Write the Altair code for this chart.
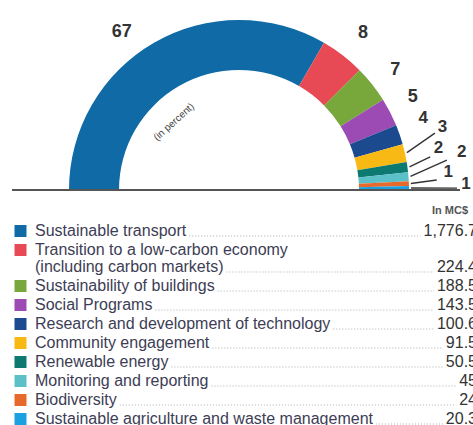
import math
import altair as alt
import pandas as pd

# ---------------- data ----------------
categories = [
    "Sustainable transport",
    "Transition to a low-carbon economy",
    "Sustainability of buildings",
    "Social Programs",
    "Research and development of technology",
    "Community engagement",
    "Renewable energy",
    "Monitoring and reporting",
    "Biodiversity",
    "Sustainable agriculture and waste management",
]
second_lines = ["", "(including carbon markets)", "", "", "", "", "", "", "", ""]
amounts = [1776.7, 224.4, 188.5, 143.5, 100.6, 91.5, 50.5, 45, 24, 20.3]
amount_labels = ["1,776.7", "224.4", "188.5", "143.5", "100.6", "91.5", "50.5", "45", "24", "20.3"]
percent_labels = ["67", "8", "7", "5", "4", "3", "2", "2", "1", "1"]
colors = ["#0f6aa6", "#e84a55", "#78a83b", "#9b4bb3", "#1b4a8f",
          "#f9b914", "#0c7a70", "#5cc0c8", "#e8692c", "#1ba1e0"]
unit_label = "In MC$"
inner_note = "(in percent)"

# ---------------- layout / style ----------------
W, H = 473, 425
CX, CY = 239, 190
R_OUT, R_IN = 170, 120
label_radius = [197, 200, 197, 197, 198, 213, 204, 226, 210, 227]
label_shift = [-6.5, 0.7, 0.9, -0.8, -2.4, -4.7, -4.2, -5.2, -2.7, -0.8]
label_size = [18, 18, 18, 18, 17, 17, 17, 17, 17, 17]
leader_end_r = [None, None, None, None, None, 204, 194, 210, 198, 218]
leader_end_a = [None, None, None, None, None, 73.8, 80.2, 81.8, 87.1, 89.5]

FONT = "Liberation Sans"
LEG_FS = 16
LEG_X = 35
VAL_RIGHT = 477

# Arial width table (per 1000 em)
AW = {" ": 278, "(": 333, ")": 333, "-": 333, ",": 278, ".": 278,
      "a": 556, "b": 556, "c": 500, "d": 556, "e": 556, "f": 278, "g": 556, "h": 556,
      "i": 222, "j": 222, "k": 500, "l": 222, "m": 833, "n": 556, "o": 556, "p": 556,
      "q": 556, "r": 333, "s": 500, "t": 278, "u": 556, "v": 500, "w": 722, "x": 500,
      "y": 500, "z": 500, "S": 667, "T": 611, "C": 722, "R": 722, "M": 833, "B": 667,
      "P": 667}


def tw(s, fs):
    return sum(AW.get(c, 556) for c in s) * fs / 1000.0


total = sum(amounts)
pcts = [a / total for a in amounts]

# ---------------- arc data ----------------
arc_df = pd.DataFrame({"cat": categories, "amount": amounts, "idx": list(range(len(amounts)))})

# ---------------- label positions (polar, from slice mid angles) ----------------
lab_rows, lead_rows = [], []
cum = 0.0
for i, p in enumerate(pcts):
    mid = -90 + (cum + p / 2) * 180
    cum += p
    a = math.radians(mid + label_shift[i])
    lab_rows.append({"x": CX + label_radius[i] * math.sin(a),
                     "y": CY - label_radius[i] * math.cos(a),
                     "t": percent_labels[i], "fs": label_size[i]})
    if leader_end_r[i] is not None:
        m = math.radians(mid)
        e = math.radians(leader_end_a[i])
        lead_rows.append({"x": CX + (R_OUT + 2) * math.sin(m), "y": CY - (R_OUT + 2) * math.cos(m),
                          "x2": CX + leader_end_r[i] * math.sin(e), "y2": CY - leader_end_r[i] * math.cos(e)})
lab_df = pd.DataFrame(lab_rows)
lead_df = pd.DataFrame(lead_rows)

# ---------------- legend rows ----------------
leg_sq, leg_txt, leg_val, leg_dot = [], [], [], []
extra = 0
for i, c in enumerate(categories):
    y = 231 + 19 * i + extra
    leg_sq.append({"x": 20.5, "y": y, "cat": c})
    leg_txt.append({"x": LEG_X, "y": y, "t": c})
    last_line, ly = c, y
    if second_lines[i]:
        extra += 17
        ly = y + 17
        last_line = second_lines[i]
        leg_txt.append({"x": LEG_X, "y": ly, "t": second_lines[i]})
    leg_val.append({"x": VAL_RIGHT, "y": ly, "t": amount_labels[i]})
    x_start = LEG_X + tw(last_line, LEG_FS) + 3
    x_end = VAL_RIGHT - tw(amount_labels[i], LEG_FS) - 3
    leg_dot.append({"x": x_start, "x2": x_end, "y": ly + 5})
sq_df = pd.DataFrame(leg_sq)
txt_df = pd.DataFrame(leg_txt)
val_df = pd.DataFrame(leg_val)
dot_df = pd.DataFrame(leg_dot)

xs = alt.Scale(domain=[0, W], nice=False, zero=False)
ys = alt.Scale(domain=[0, H], nice=False, zero=False, reverse=True)
X = alt.X("x:Q", scale=xs, axis=None)
Y = alt.Y("y:Q", scale=ys, axis=None)

color_scale = alt.Scale(domain=categories, range=colors)

arc = alt.Chart(arc_df).mark_arc(radius=R_OUT, radius2=R_IN, stroke=None).encode(
    theta=alt.Theta("amount:Q", stack=True,
                    scale=alt.Scale(domain=[0, total], range=[-math.pi / 2, math.pi / 2])),
    order=alt.Order("idx:Q"),
    color=alt.Color("cat:N", scale=color_scale, legend=None),
    x=alt.value(CX), y=alt.value(CY),
)

baseline = alt.Chart(pd.DataFrame({"x": [12], "x2": [460], "y": [CY]})).mark_rule(
    color="#555555", strokeWidth=2).encode(X, x2="x2:Q", y=Y)

leaders = alt.Chart(lead_df).mark_rule(color="#333333", strokeWidth=1.4).encode(
    X, Y, x2="x2:Q", y2="y2:Q")

labels = alt.Chart(lab_df).mark_text(font=FONT, fontWeight="bold", color="#333333",
                                     align="center", baseline="middle").encode(
    X, Y, text="t:N", size=alt.Size("fs:Q", scale=None, legend=None))

note = alt.Chart(pd.DataFrame({"x": [174], "y": [122], "t": [inner_note]})).mark_text(
    font=FONT, fontSize=10, color="#444444", angle=318, align="center", baseline="middle").encode(
    X, Y, text="t:N")

squares = alt.Chart(sq_df).mark_square(size=144, opacity=1).encode(
    X, Y, color=alt.Color("cat:N", scale=color_scale, legend=None))

leg_text = alt.Chart(txt_df).mark_text(font=FONT, fontSize=LEG_FS, color="#3d3d55",
                                       align="left", baseline="middle").encode(X, Y, text="t:N")

leg_values = alt.Chart(val_df).mark_text(font=FONT, fontSize=LEG_FS, color="#333333",
                                         align="right", baseline="middle").encode(X, Y, text="t:N")

dots = alt.Chart(dot_df).mark_rule(color="#9a9a9a", strokeWidth=0.8, strokeDash=[1, 2]).encode(
    X, x2="x2:Q", y=Y)

unit = alt.Chart(pd.DataFrame({"x": [432], "y": [211], "t": [unit_label]})).mark_text(
    font=FONT, fontSize=11, fontWeight="bold", color="#555555", align="left", baseline="middle").encode(
    X, Y, text="t:N")

chart = alt.layer(arc, baseline, leaders, labels, note, dots, squares, leg_text, leg_values, unit).properties(
    width=W, height=H, autosize="none", padding=0, background="white"
).configure_view(stroke=None)

chart.save("out.html", embed_options={"renderer": "svg", "actions": False})
